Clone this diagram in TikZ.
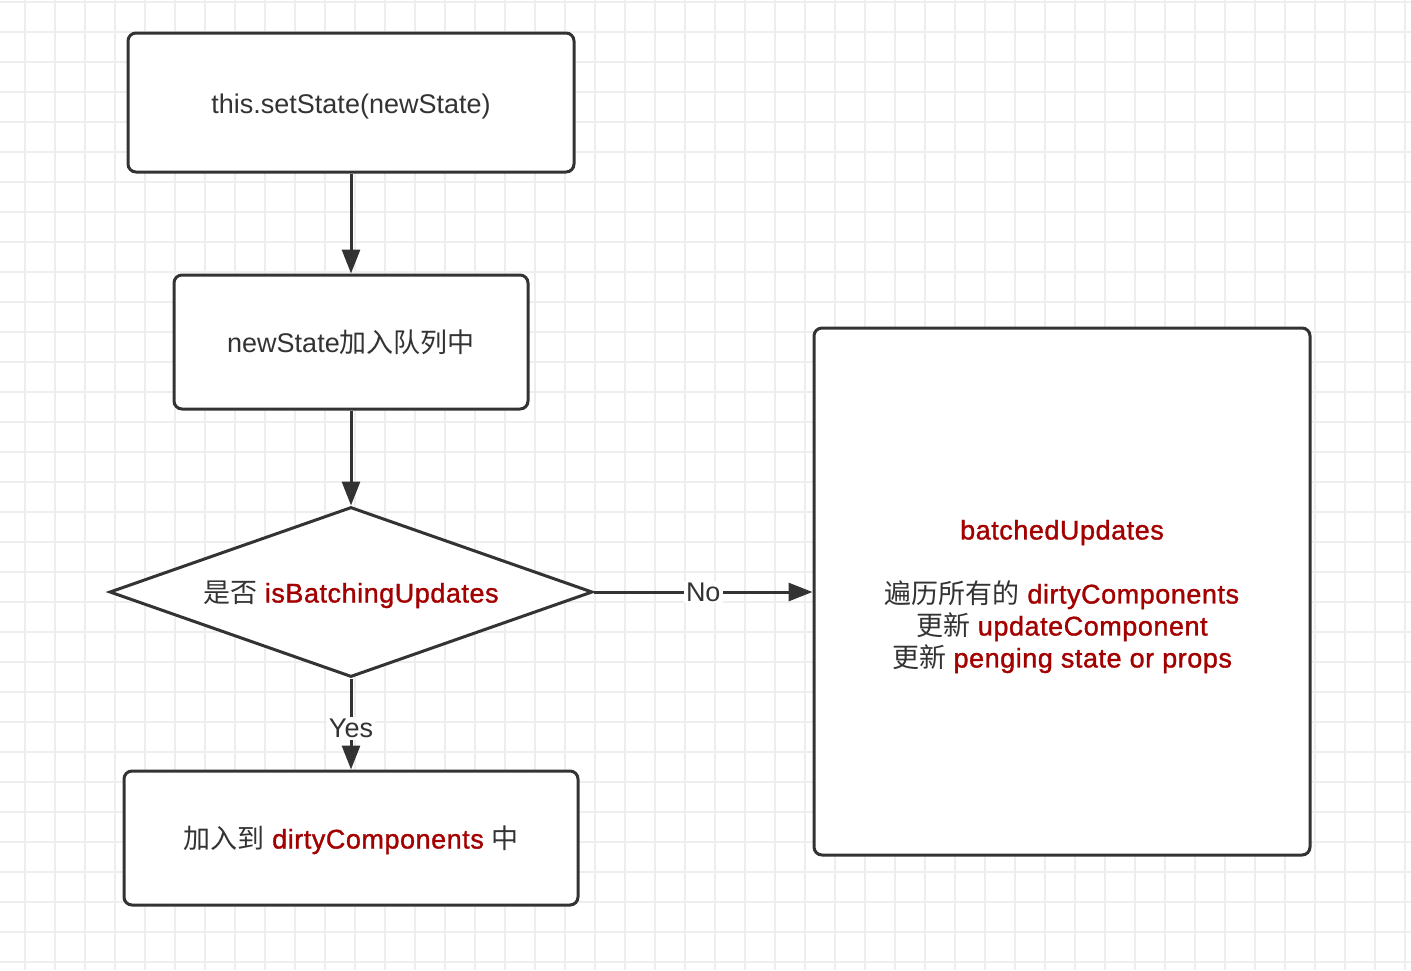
\documentclass[tikz,border=0pt]{standalone}
\usepackage{fontspec}
\setmainfont{Liberation Sans}
\newfontfamily\cjk{Noto Sans CJK SC}
\newfontfamily\medfont[FakeBold=1.2,LetterSpace=2]{Liberation Sans}
\usetikzlibrary{shapes.geometric,arrows.meta}
\definecolor{linec}{HTML}{333333}
\definecolor{gridc}{HTML}{EEEEEE}
\definecolor{hl}{HTML}{A30000}
\newcommand{\hlt}[1]{\textcolor{hl}{\medfont #1}}
\tikzset{
  box/.style={draw=linec, line width=1.5pt, rounded corners=4pt, fill=white, font=\fontsize{13.5}{16}\selectfont, text=linec, text height=13.5pt, text depth=3pt},
  bigbox/.style={draw=linec, line width=1.5pt, rounded corners=4pt, fill=white},
  boxtext/.style={font=\fontsize{13.5}{16}\selectfont, text=linec, align=center},
  decision/.style={draw=linec, line width=1.5pt, diamond, fill=white, font=\fontsize{13.5}{16}\selectfont, text=linec, text height=13.5pt, text depth=3pt},
  flow/.style={draw=linec, line width=1.5pt, -{Triangle[length=12pt,width=9pt]}},
  lbl/.style={fill=white, inner sep=1pt, font=\fontsize{13.5}{16}\selectfont, text=linec},
}
\begin{document}
\begin{tikzpicture}[x=0.5pt,y=-0.5pt]
\useasboundingbox (0,0) rectangle (1411,970);
\fill[white] (0,0) rectangle (1411,970);
\foreach \i in {0,...,46} {\draw[gridc, line width=1pt] ({25+30*\i},0) -- ({25+30*\i},970);}
\foreach \j in {0,...,32} {\draw[gridc, line width=1pt] (0,{1.7+30*\j}) -- (1411,{1.7+30*\j});}

\node[box, minimum width=223pt, minimum height=69.5pt] (set) at (351,102.5) {this.setState(newState)};
\node[box, minimum width=177pt, minimum height=67pt] (queue) at (351,342) {newState{\cjk 加入队列中}};
\node[decision, minimum width=241.5pt, minimum height=85pt, inner sep=0pt, aspect=2.84] (dec) at (351,592)
  {{\cjk 是否} \hlt{isBatchingUpdates}};
\node[box, minimum width=227pt, minimum height=67pt] (dirty) at (351,838)
  {{\cjk 加入到} \hlt{dirtyComponents} {\cjk 中}};
\node[bigbox, minimum width=248pt, minimum height=263.5pt] (batch) at (1062,591.5) {};
\node[boxtext] (batchtext) at ([yshift=-2.5pt]batch.center)
  {\hlt{batchedUpdates}\\[16pt]
   {\cjk 遍历所有的} \hlt{dirtyComponents}\\
   {\cjk 更新} \hlt{updateComponent}\\
   {\cjk 更新} \hlt{penging state or props}};

\draw[flow] (set) -- (queue);
\draw[flow] (queue) -- (dec);
\draw[flow] (dec.east) -- node[lbl] {No} (batch.west |- dec.east);
\draw[flow] (dec.south) -- node[lbl, pos=0.55] {Yes} (dirty.north);
\end{tikzpicture}
\end{document}
